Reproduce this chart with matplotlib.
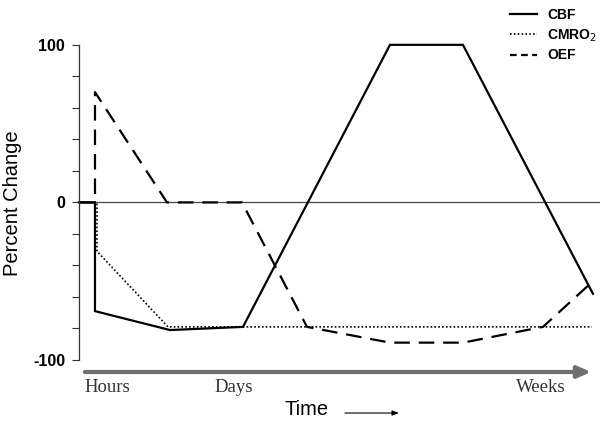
import matplotlib.pyplot as plt
from matplotlib.lines import Line2D

# time axis has no numbers, so x is in arbitrary time units read off the picture
cbf_t = [0, 16, 16, 91, 164, 311, 384, 514]
cbf = [0, 0, -69, -81, -79, 100, 100, -58]

cmro2_t = [0, 18, 18, 89, 513]
cmro2 = [0, 0, -31, -79, -79]

oef_t = [0, 16, 16, 88, 163, 228, 311, 384, 464, 514]
oef = [0, 0, 70, 0, 0, -79, -89, -89, -79, -50]

ytick_vals = [-100, -80, -60, -40, -20, 0, 20, 40, 60, 80, 100]
ytick_labels = ["-100", "", "", "", "", "0", "", "", "", "", "100"]
time_labels = ["Hours", "Days", "Weeks"]
time_label_x = [0.178, 0.389, 0.899]

plt.rcParams['font.family'] = ['Liberation Sans', 'DejaVu Sans']

fig = plt.figure(figsize=(6.02, 4.23), dpi=100)
ax = fig.add_axes([0.1312, 0.149, 0.8654, 0.745])

#零線
ax.axhline(0, color="#444444", lw=0.9, zorder=1)

ax.plot(cbf_t, cbf, color="black", lw=1.6, solid_joinstyle="miter", clip_on=False)
ax.plot(cmro2_t, cmro2, color="black", lw=1.2, linestyle=(0, (1, 1.3)), clip_on=False)
ax.plot(oef_t, oef, color="black", lw=1.6, linestyle=(0, (7, 4)), clip_on=False)

ax.set_xlim(0, 521)
ax.set_ylim(-100, 100)
for s in ["top", "right", "bottom"]:
    ax.spines[s].set_visible(False)
ax.spines["left"].set_color("#333333")
ax.spines["left"].set_linewidth(0.9)
ax.set_xticks([])
ax.set_yticks(ytick_vals)
ax.set_yticklabels(ytick_labels, fontsize=11.5, fontweight="bold")
ax.tick_params(axis="y", length=5, width=0.8, color="#333333", pad=5)

fig.text(0.021, 0.52, "Percent Change", rotation=90, ha="center", va="center",
         fontsize=14.5)

# gray time arrow under the plot
ax.annotate("", xy=(0.982, 0.1206), xytext=(0.141, 0.1206),
            xycoords="figure fraction", textcoords="figure fraction",
            arrowprops=dict(arrowstyle="-|>,head_length=0.8,head_width=0.35",
                            color="#707070", lw=3, shrinkA=0, shrinkB=0))
for lab, x in zip(time_labels, time_label_x):
    fig.text(x, 0.083, lab, ha="center", va="center", fontsize=13.5,
             family="Liberation Serif", color="#333333")

fig.text(0.51, 0.031, "Time", ha="center", va="center", fontsize=14.5)
ax.annotate("", xy=(0.663, 0.0236), xytext=(0.573, 0.0236),
            xycoords="figure fraction", textcoords="figure fraction",
            arrowprops=dict(arrowstyle="-|>,head_length=0.4,head_width=0.15",
                            color="black", lw=0.8, shrinkA=0, shrinkB=0))

handles = [Line2D([], [], color="black", lw=1.6),
           Line2D([], [], color="black", lw=1.2, linestyle=(0, (1, 1.3))),
           Line2D([], [], color="black", lw=1.6, linestyle=(0, (3, 2)))]
fig.legend(handles, ["CBF", "CMRO$_2$", "OEF"], loc="upper right",
           bbox_to_anchor=(1.012, 1.01), frameon=False,
           prop=dict(size=10, weight="bold"), handlelength=1.9,
           labelspacing=0.35, handletextpad=0.75)

fig.savefig("out.png", dpi=100)
